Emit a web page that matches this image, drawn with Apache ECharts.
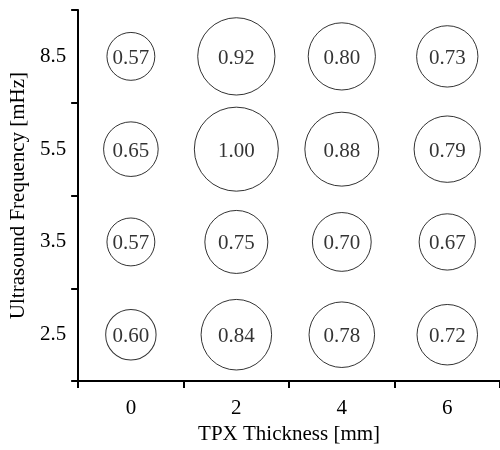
<!DOCTYPE html>
<html>
<head>
<meta charset="utf-8">
<script src="https://cdn.jsdelivr.net/npm/echarts@6/dist/echarts.min.js"></script>
<style>
  html, body { margin: 0; padding: 0; background: #fff; }
  #chart { width: 500px; height: 450px; }
</style>
</head>
<body>
<div id="chart"></div>
<script>
// TPX thickness (mm) along x, ultrasound frequency (mHz) along y
const thicknessLabels = ['0', '2', '4', '6'];
const frequencyLabels = ['2.5', '3.5', '5.5', '8.5'];

// Normalised values per frequency row, ordered by thickness
const row2_5 = [0.60, 0.84, 0.78, 0.72];
const row3_5 = [0.57, 0.75, 0.70, 0.67];
const row5_5 = [0.65, 1.00, 0.88, 0.79];
const row8_5 = [0.57, 0.92, 0.80, 0.73];

const rows = [row2_5, row3_5, row5_5, row8_5];
const points = [];
rows.forEach((row, yi) => {
  row.forEach((v, xi) => points.push([xi, yi, v]));
});

const serif = '"Liberation Serif", "DejaVu Serif", serif';
const chart = echarts.init(document.getElementById('chart'), null, { renderer: 'canvas' });

chart.setOption({
  animation: false,
  backgroundColor: '#fff',
  grid: { left: 77, right: 0, top: 10, bottom: 61, containLabel: false },
  xAxis: {
    type: 'category',
    data: thicknessLabels,
    name: 'TPX Thickness [mm]',
    nameLocation: 'middle',
    nameGap: 36,
    nameTextStyle: { fontFamily: serif, fontSize: 21, color: '#000' },
    axisLine: { lineStyle: { color: '#000', width: 2 } },
    axisTick: { show: true, alignWithLabel: false, lineStyle: { color: '#000', width: 2 }, length: 7 },
    axisLabel: { fontFamily: serif, fontSize: 21, color: '#000', margin: 17 },
    splitLine: { show: false }
  },
  yAxis: {
    type: 'category',
    data: frequencyLabels,
    name: 'Ultrasound Frequency [mHz]',
    nameLocation: 'middle',
    nameRotate: 90,
    nameGap: 45,
    nameTextStyle: { fontFamily: serif, fontSize: 21, color: '#000' },
    axisLine: { lineStyle: { color: '#000', width: 2 } },
    axisTick: { show: true, alignWithLabel: false, lineStyle: { color: '#000', width: 2 }, length: 7 },
    axisLabel: { fontFamily: serif, fontSize: 21, color: '#000', margin: 12, padding: [5, 0, 0, 0] },
    splitLine: { show: false }
  },
  series: [{
    type: 'scatter',
    data: points,
    symbol: 'circle',
    symbolSize: d => d[2] * 84,
    itemStyle: { color: '#fff', borderColor: '#000', borderWidth: 1 },
    label: {
      show: true,
      position: 'inside',
      offset: [0, 2],
      formatter: p => p.data[2].toFixed(2),
      fontFamily: serif,
      fontSize: 21,
      color: '#000'
    },
    emphasis: { disabled: true }
  }]
});
</script>
</body>
</html>
